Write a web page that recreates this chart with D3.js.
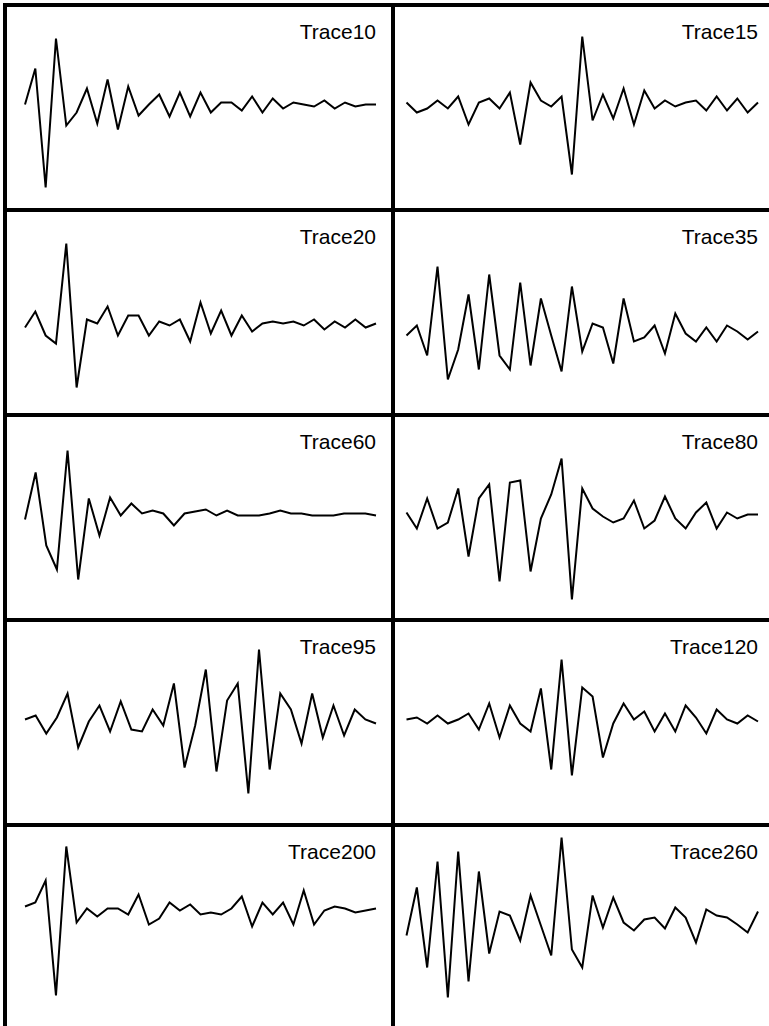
<!DOCTYPE html>
<meta charset="utf-8">
<title>Traces</title>
<style>
html, body {
    margin: 0;
    background: #fff;
}
svg {
    display: block;
}
</style>
<body>
<script src="https://cdn.jsdelivr.net/npm/d3@7"></script>
<script>
// amplitudes (0 = panel middle)
var labels = ["Trace10", "Trace15", "Trace20", "Trace35", "Trace60",
              "Trace80", "Trace95", "Trace120", "Trace200", "Trace260"];

var trace10 = [3, 39, -80, 69, -18, -5, 19, -16, 28, -22, 21, -8, 3, 13, -9, 15, -9, 15,
               -5, 5, 5, -3, 11, -5, 9, -1, 5, 3, 1, 7, -1, 5, 1, 3, 3];
var trace15 = [5, -5, -1, 7, -1, 11, -17, 5, 9, -1, 15, -37, 25, 7, 1, 11, -67, 71,
               -13, 13, -11, 19, -17, 17, -1, 7, 1, 5, 7, -3, 11, -3, 9, -5, 5];
var trace20 = [-15, 1, -23, -31, 69, -75, -7, -11, 6, -23, -3, -3, -23, -9, -13, -7, -29, 10,
               -21, 2, -23, -3, -19, -11, -9, -11, -9, -13, -7, -17, -9, -15, -7, -15, -11];
var trace35 = [-23, -13, -43, 46, -67, -37, 18, -57, 38, -43, -57, 30, -53, 14, -23, -59, 26, -39,
               -11, -15, -51, 14, -29, -25, -13, -41, -1, -21, -29, -15, -29, -13, -19, -27, -19];
var trace60 = [-2, 45, -28, -52, 67, -62, 19, -18, 20, 2, 14, 4, 7, 4, -8, 4, 6, 8,
               2, 7, 2, 2, 2, 4, 7, 4, 4, 2, 2, 2, 4, 4, 4, 2];
var trace80 = [5, -11, 19, -11, -5, 29, -39, 19, 33, -64, 35, 37, -54, -1, 23, 59, -82, 29,
               9, 1, -5, -1, 17, -11, -3, 21, -1, -11, 5, 15, -11, 5, -1, 3, 3];
var trace95 = [3, 7, -11, 5, 29, -25, 1, 17, -9, 21, -7, -9, 13, -3, 39, -45, -3, 53,
               -49, 22, 39, -71, 73, -47, 29, 13, -21, 29, -15, 17, -13, 13, 3, -1];
var trace120 = [3, 5, -1, 7, -1, 3, 9, -7, 19, -15, 17, -1, -9, 34, -47, 63, -53, 35,
                26, -35, -1, 19, 3, 11, -9, 9, -9, 17, 5, -11, 13, 3, -1, 7, 1];
var trace200 = [21, 25, 47, -68, 81, 5, 19, 11, 19, 19, 13, 33, 3, 9, 25, 17, 23, 13,
                15, 13, 19, 31, 1, 25, 13, 25, 3, 37, 3, 17, 21, 19, 15, 17, 19];
var trace260 = [-8, 40, -40, 66, -70, 76, -54, 56, -26, 16, 12, -13, 32, 2, -28, 90, -22, -40,
                32, 0, 30, 5, -3, 8, 10, -1, 20, 10, -15, 18, 12, 10, 3, -5, 16];

var traces = [trace10, trace15, trace20, trace35, trace60,
              trace80, trace95, trace120, trace200, trace260];

var width = 769,
    height = 1026,
    originX = 5,
    originY = 5,
    cellW = 388,
    cellH = 205,
    xInset = [[20, 371], [13.5, 365]];

var svg = d3.select("body").append("svg")
    .attr("width", width)
    .attr("height", height)
    .style("background", "#fff");

var y = d3.scaleLinear()
    .domain([-100, 100])
    .range([cellH / 2 + 100, cellH / 2 - 100]);

var panel = svg.selectAll("g.panel")
    .data(traces)
    .enter().append("g")
    .attr("class", "panel")
    .attr("transform", function(d, i) {
        return "translate(" + (originX + (i % 2) * cellW) + "," + (originY + Math.floor(i / 2) * cellH) + ")";
    });

panel.append("rect")
    .attr("width", cellW)
    .attr("height", cellH)
    .attr("fill", "none")
    .attr("stroke", "#000")
    .attr("stroke-width", 4);

panel.each(function(d, i) {
    var g = d3.select(this),
        x = d3.scaleLinear().domain([0, d.length - 1]).range(xInset[i % 2]);

    g.append("path")
        .attr("fill", "none")
        .attr("stroke", "#000")
        .attr("stroke-width", 2)
        .attr("d", d3.line()
            .x(function(v, j) { return x(j); })
            .y(function(v) { return y(v); })(d));

    g.append("text")
        .attr("x", xInset[i % 2][1])
        .attr("y", 34)
        .attr("text-anchor", "end")
        .style("font-family", "'Liberation Sans', Arial, sans-serif")
        .style("font-size", "21px")
        .style("fill", "#000")
        .text(labels[i]);
});
</script>
